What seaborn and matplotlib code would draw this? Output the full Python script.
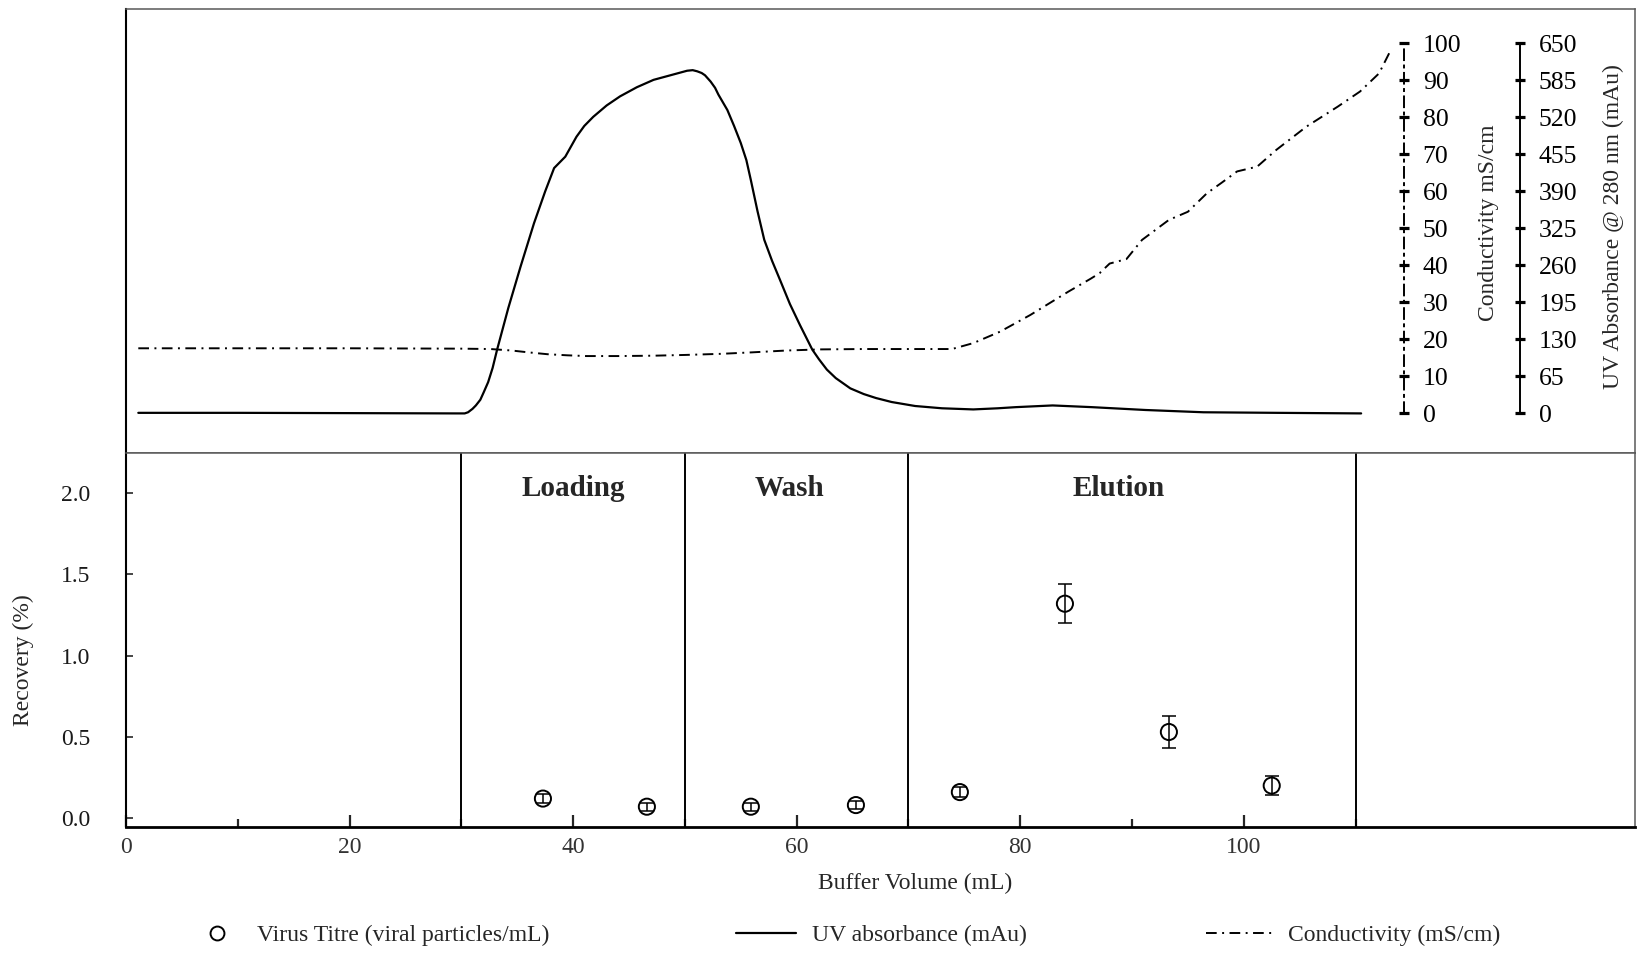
import matplotlib
matplotlib.use("Agg")
import matplotlib.pyplot as plt
import seaborn as sns
import pandas as pd
from matplotlib.lines import Line2D
from matplotlib.ticker import FixedLocator

# UV absorbance at 280 nm (mAu) over the run
uv_volume = [1.1, 10, 20, 29.5, 30.3, 30.6, 31.0, 31.3, 31.7, 32.0, 32.4, 32.8, 33.2,
             34.2, 35.3, 36.5, 37.5, 38.3, 39.3, 40.3, 41.0, 41.8, 43.0, 44.2, 45.7,
             47.2, 48.7, 50.2, 50.7, 51.1, 51.5, 51.8, 52.3, 52.7, 53.0, 53.8, 54.4,
             55.0, 55.5, 55.9, 56.5, 57.1, 57.8, 58.5, 59.4, 60.3, 61.4, 62.0, 62.7,
             63.5, 64.8, 66.0, 67.1, 68.5, 70.6, 73.0, 75.8, 78.0, 79.6, 82.9, 86.4,
             91.2, 96.4, 103.0, 110.5]
uv_mau = [1, 1, 0.5, 0, 0, 2, 8, 14, 24, 37, 55, 80, 112,
          185, 258, 334, 390, 431, 451, 486, 505, 521, 541, 557, 573,
          586, 594, 602, 603, 601, 598, 594, 583, 572, 560, 533, 505,
          475, 445, 410, 355, 305, 268, 235, 192, 155, 112, 95, 77,
          62, 44, 34, 27, 20, 13, 9, 7, 9, 11, 14, 11,
          6, 2, 1, 0]

# Conductivity (mS/cm) over the run
cond_volume = [1.1, 10, 20, 30, 32.6, 34.5, 36.0, 37.7, 39.5, 41.2, 44.0, 47.2, 50.0,
               53.2, 56.0, 59.1, 62.1, 66.0, 70.0, 73.9, 75.8, 78.2, 80.9, 84.3, 86.3,
               87.1, 88.0, 89.5, 90.9, 93.3, 95.0, 96.7, 98.0, 99.4, 101.2, 102.9,
               105.6, 108.4, 110.4, 112.1, 113.2]
cond_ms = [17.6, 17.6, 17.6, 17.5, 17.4, 17.0, 16.5, 16.0, 15.7, 15.5, 15.5, 15.6, 15.8,
           16.1, 16.5, 17.0, 17.3, 17.4, 17.4, 17.4, 19.0, 22.1, 26.6, 32.9, 36.4,
           37.9, 40.5, 41.7, 46.9, 52.3, 54.5, 59.5, 62.3, 65.4, 66.7, 71.2,
           77.5, 82.9, 87.0, 91.9, 98.5]

# Virus recovery in collected fractions
sample_volume = [37.3, 46.6, 55.9, 65.3, 74.6, 84.0, 93.3, 102.5]
recovery = [0.12, 0.07, 0.07, 0.08, 0.16, 1.32, 0.53, 0.20]
recovery_err = [0.03, 0.025, 0.025, 0.025, 0.03, 0.12, 0.10, 0.06]

phase_bounds = [30, 50, 70, 110]
phase_names = ["Loading", "Wash", "Elution"]
phase_centres = [40, 59.4, 88.8]

cond_ticks = list(range(0, 101, 10))
uv_ticks = list(range(0, 651, 65))
recovery_ticks = [0.0, 0.5, 1.0, 1.5, 2.0]
volume_ticks = [0, 20, 40, 60, 80, 100]
volume_minor = [10, 30, 50, 70, 90, 110]

sns.set_theme(style="ticks")
plt.rcParams["font.family"] = ["Liberation Serif", "DejaVu Serif"]
plt.rcParams["mathtext.fontset"] = "dejavuserif"

FS = 17
GREY = "#595959"
DASHDOT = (0, (5.5, 2.8, 1.0, 2.8))

fig = plt.figure(figsize=(16.42, 9.56), dpi=100)
W, H = 1642.0, 956.0
x0, x1 = 126 / W, 1635 / W
y_div = 1 - 453 / H
y_top = 1 - 9 / H
y_bot = 1 - 827 / H

ax_top = fig.add_axes([x0, y_div, x1 - x0, y_top - y_div])
ax_bot = fig.add_axes([x0, y_bot, x1 - x0, y_div - y_bot])

xlim = (0, 135)
cond_lim = (-10.7, 109.3)
uv_lim = (cond_lim[0] * 6.5, cond_lim[1] * 6.5)

# ---------- chromatogram panel ----------
ax_top.set_xlim(*xlim)
ax_top.set_ylim(*cond_lim)
ax_top.spines["left"].set_color("black")
ax_top.spines["left"].set_linewidth(1.5)
for s in ("top", "right", "bottom"):
    ax_top.spines[s].set_color(GREY)
    ax_top.spines[s].set_linewidth(1.1)

ax_c = ax_top.twinx()
ax_u = ax_top.twinx()
# twinx re-enables the host's left ticks, so clear them afterwards
ax_top.set_xticks([])
ax_top.set_yticks([])
ax_top.tick_params(bottom=False, labelbottom=False, left=False, labelleft=False)

for tw, lim, ticks, pos in ((ax_c, cond_lim, cond_ticks, 0.8469),
                            (ax_u, uv_lim, uv_ticks, 0.9238)):
    tw.set_xlim(*xlim)
    tw.set_ylim(*lim)
    for s in ("left", "top", "bottom"):
        tw.spines[s].set_visible(False)
    sp = tw.spines["right"]
    sp.set_position(("axes", pos))
    sp.set_bounds(ticks[0], ticks[-1])
    sp.set_color("black")
    sp.set_linewidth(1.4)
    tw.yaxis.set_ticks_position("right")
    tw.set_yticks(ticks)
    tw.set_yticklabels([str(t) for t in ticks])
    tw.tick_params(axis="y", direction="inout", length=7, width=2.3,
                   labelsize=18.5, pad=10, colors="black")
ax_c.spines["right"].set_linestyle(DASHDOT)

df_cond = pd.DataFrame({"volume": cond_volume, "conductivity": cond_ms})
df_uv = pd.DataFrame({"volume": uv_volume, "uv": uv_mau})
sns.lineplot(data=df_cond, x="volume", y="conductivity", ax=ax_c, color="black",
             linewidth=1.4, linestyle=DASHDOT, sort=False, estimator=None)
sns.lineplot(data=df_uv, x="volume", y="uv", ax=ax_u, color="black",
             linewidth=1.6, sort=False, estimator=None,
             solid_joinstyle="round", solid_capstyle="round")
for tw in (ax_c, ax_u):
    tw.set_xlabel("")
    tw.set_ylabel("")

fig.text(1488 / W, 1 - 223 / H, "Conductivity mS/cm", rotation=90,
         ha="center", va="center", fontsize=FS)
fig.text(1613 / W, 1 - 227 / H, "UV Absorbance @ 280 nm (mAu)", rotation=90,
         ha="center", va="center", fontsize=FS)

# ---------- recovery panel ----------
ax_bot.set_xlim(*xlim)
ax_bot.set_ylim(-0.055, 2.248)
for b in phase_bounds:
    ax_bot.axvline(b, color="black", linewidth=1.4, zorder=1)
for name, cx in zip(phase_names, phase_centres):
    ax_bot.text(cx, 2.03, name, ha="center", va="center", fontsize=21,
                fontweight="bold")

ax_bot.errorbar(sample_volume, recovery, yerr=recovery_err, fmt="none",
                ecolor="black", elinewidth=1.1, capsize=4.8, capthick=1.1, zorder=3)
df_rec = pd.DataFrame({"volume": sample_volume, "recovery": recovery})
sns.scatterplot(data=df_rec, x="volume", y="recovery", ax=ax_bot, marker="o",
                s=135, linewidth=1.4, zorder=4)
pts = ax_bot.collections[-1]
pts.set_facecolor("none")
pts.set_edgecolor("black")
ax_bot.set_xlabel("")
ax_bot.set_ylabel("")

ax_bot.xaxis.set_major_locator(FixedLocator(volume_ticks))
ax_bot.xaxis.set_minor_locator(FixedLocator(volume_minor))
ax_bot.set_xticklabels([str(t) for t in volume_ticks])
ax_bot.set_yticks(recovery_ticks)
ax_bot.set_yticklabels([f"{t:.1f}" for t in recovery_ticks])
ax_bot.tick_params(axis="x", which="major", direction="in", length=9, width=1.6,
                   labelsize=FS, pad=7, labelcolor="#333333", bottom=True)
ax_bot.tick_params(axis="x", which="minor", direction="in", length=6, width=1.6,
                   bottom=True)
ax_bot.tick_params(axis="y", direction="in", length=5, width=1.2, labelsize=FS,
                   pad=26, labelcolor="#1a1a1a", left=True)
ax_bot.spines["left"].set_color("black")
ax_bot.spines["left"].set_linewidth(1.5)
ax_bot.spines["bottom"].set_color("black")
ax_bot.spines["bottom"].set_linewidth(2.0)
for s in ("top", "right"):
    ax_bot.spines[s].set_color(GREY)
    ax_bot.spines[s].set_linewidth(1.1)

fig.text(915 / W, 1 - 883 / H, "Buffer Volume (mL)", ha="center", va="center",
         fontsize=FS)
fig.text(23 / W, 1 - 660 / H, "Recovery (%)", rotation=90, ha="center",
         va="center", fontsize=FS)

# ---------- legend ----------
ly = 1 - 935 / H
leg_items = [
    (Line2D([], [], marker="o", linestyle="none", markerfacecolor="none",
            markeredgecolor="black", markersize=10, markeredgewidth=1.4),
     "Virus Titre (viral particles/mL)", 205, 1.0, 1.19),
    (Line2D([], [], color="black", linewidth=1.6),
     "UV absorbance (mAu)", 736, 2.54, 0.66),
    (Line2D([], [], color="black", linewidth=1.4, linestyle=DASHDOT),
     "Conductivity (mS/cm)", 1206, 2.8, 0.68),
]
for handle, label, xpix, hl, pad in leg_items:
    fig.legend([handle], [label], loc="center left",
               bbox_to_anchor=(xpix / W, ly), frameon=False, fontsize=FS,
               handlelength=hl, handletextpad=pad, borderpad=0,
               borderaxespad=0)

fig.savefig("out.png", dpi=100, facecolor="white")
